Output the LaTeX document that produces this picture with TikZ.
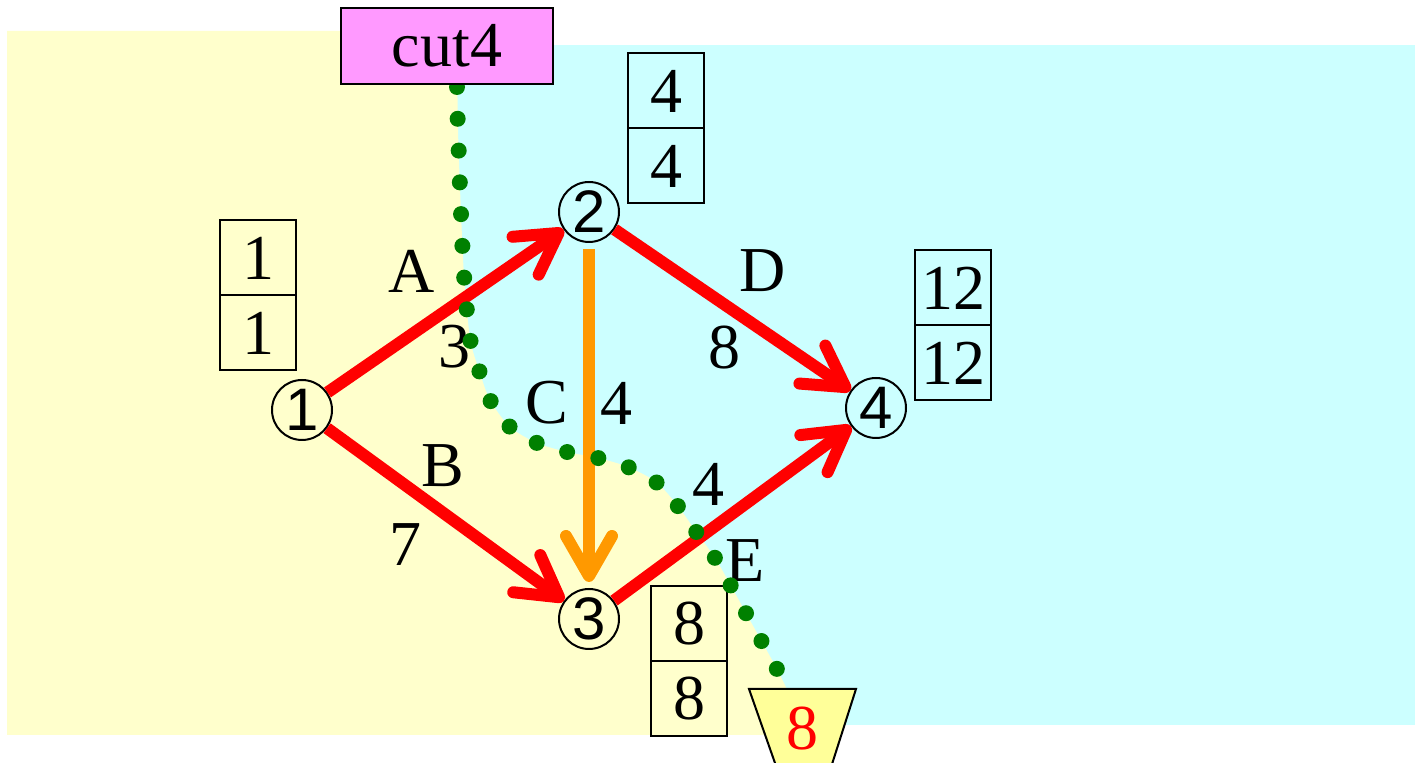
\documentclass[tikz,border=0pt]{standalone}
\usepackage{fontspec}
\setmainfont{Liberation Serif}
\newfontfamily\circfont{Liberation Sans}
\usepackage{xcolor}
\usepackage{tikz}
\usetikzlibrary{positioning,arrows.meta}
\definecolor{leftside}{RGB}{255,255,204}
\definecolor{rightside}{RGB}{204,255,255}
\definecolor{cutpink}{RGB}{255,153,255}
\definecolor{cutgreen}{RGB}{0,128,0}
\definecolor{critical}{RGB}{255,0,0}
\definecolor{slack}{RGB}{255,153,0}
\definecolor{capyellow}{RGB}{255,255,153}

\begin{document}
\begin{tikzpicture}[x=0.5pt,y=-0.5pt,
  big/.style={font=\fontsize{32}{36}\selectfont},
  vtx/.style={circle,draw,line width=1pt,minimum size=30pt,inner sep=0pt,
              font=\circfont\fontsize{30}{32}\selectfont},
  cell/.style={big,draw,line width=1pt,minimum width=38pt,minimum height=37.5pt,
               inner sep=0pt,outer sep=0pt},
  lbl/.style={big,inner sep=0pt},
  act/.style={line width=6pt,-{Straight Barb[length=20pt,width=23pt,round]}},
  crit/.style={act,draw=critical},
  cutdots/.style={cutgreen,line width=8pt,line cap=round,dash pattern=on 0pt off 15.9pt}]
  \useasboundingbox (0,0) rectangle (1415,763);
  \clip (0,0) rectangle (1415,763);

  % the two sides of the cut
  \fill[rightside] (457,45) rectangle (1415,725);
  \fill[leftside] (7,31) -- (457,31) -- plot[smooth] coordinates {(457,45) (458,130)
    (461,213) (464,275) (470,338) (479,370) (490,400) (510,427) (537,443) (567,452)
    (598,458) (628,467) (656,482) (677,505) (697,533) (715,558) (731,586) (747,615)
    (762,642) (778,671) (792,700)} -- (804,735) -- (7,735) -- cycle;

  % events
  \node[vtx] (n1) at (302,410) {1};
  \node[vtx] (n2) at (589,212) {2};
  \node[vtx] (n3) at (589,619) {3};
  \node[vtx] (n4) at (876,408) {4};

  % earliest / latest times
  \node[cell] (e1) at (258,258) {1};
  \node[cell,below=0pt of e1] (l1) {1};
  \node[cell] (e2) at (666,91) {4};
  \node[cell,below=0pt of e2] (l2) {4};
  \node[cell] (e3) at (689,624) {8};
  \node[cell,below=0pt of e3] (l3) {8};
  \node[cell] (e4) at (953,288) {12};
  \node[cell,below=0pt of e4] (l4) {12};

  % activities
  \draw[crit] (n1) -- (n2);
  \draw[crit] (n1) -- (n3);
  \draw[crit] (n2) -- (n4);
  \draw[crit] (n3) -- (n4);
  \draw[act,draw=slack,shorten <=3pt,shorten >=3pt] (n2) -- (n3);

  \node[lbl] (la) at (412,271) {A};
  \node[lbl] (da) at (454,347) {3};
  \node[lbl] (lb) at (443,466) {B};
  \node[lbl] (db) at (405,545) {7};
  \node[lbl] (lc) at (547,403) {C};
  \node[lbl] (dc) at (616,403) {4};
  \node[lbl] (ld) at (763,271) {D};
  \node[lbl] (dd) at (724,348) {8};
  \node[lbl] (le) at (745,561) {E};
  \node[lbl] (de) at (708,484) {4};

  % cut line
  \draw[cutdots] plot[smooth] coordinates {(457,87) (458,130) (461,213) (464,275)
    (470,338) (479,370) (490,400) (510,427) (537,443) (567,452) (598,458) (628,467)
    (656,482) (677,505) (697,533) (715,558) (731,586) (747,615) (762,642) (778,671)};

  \node[big,draw,fill=cutpink,line width=1pt,minimum width=106pt,minimum height=38pt,
        inner sep=0pt] (cut) at (447,46) {cut4};

  \filldraw[fill=capyellow,line width=1pt] (749,689) -- (856,689) -- (826,783)
    -- (782,783) -- cycle;
  \node[big,text=critical,inner sep=0pt] (cutval) at (802,729) {8};
\end{tikzpicture}
\end{document}
